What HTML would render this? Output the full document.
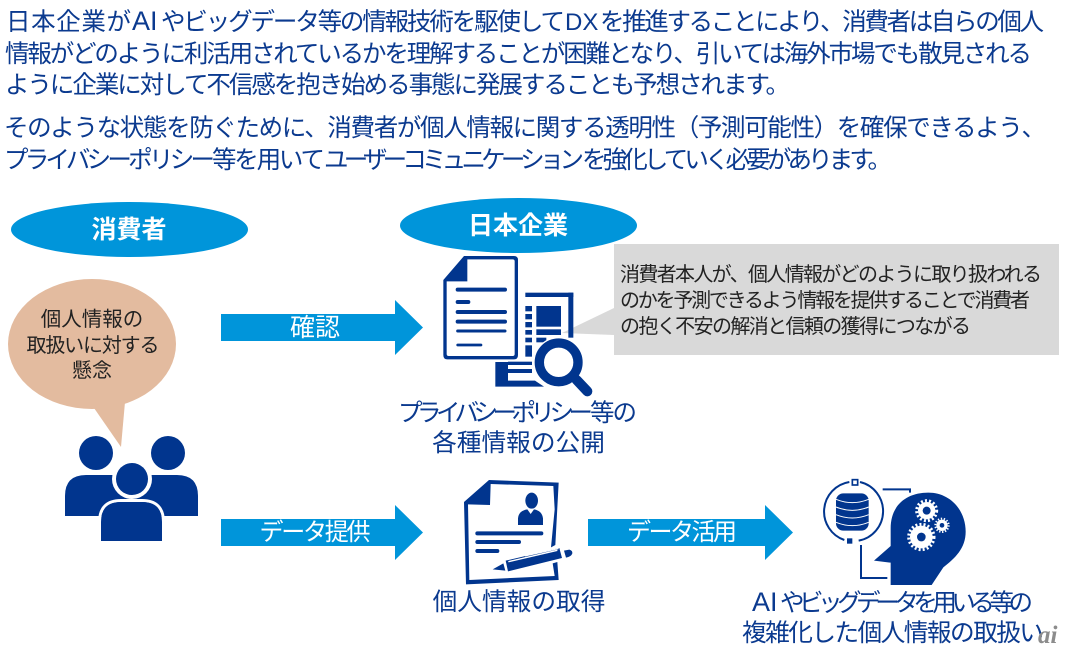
<!DOCTYPE html>
<html lang="ja"><head><meta charset="utf-8"><style>
html,body{margin:0;padding:0;background:#fff}
svg{display:block}
text{font-family:"Liberation Sans","Noto Sans CJK JP",sans-serif}
.h{font-size:24.500px;fill:#0b3a8f}
.b{font-size:24.700px;fill:#0b3a8f;text-anchor:middle}
.bl{font-size:24.500px;fill:#0b3a8f}
.w{font-size:24px;fill:#fff;text-anchor:middle}
.k{font-size:20px;fill:#222}
</style></head><body>
<svg width="1067" height="653" viewBox="0 0 1067 653" xmlns="http://www.w3.org/2000/svg">
<text class="h" x="6" y="30" textLength="125" lengthAdjust="spacing">日本企業が</text>
<text class="h" x="132" y="30" style="font-size:27px">AI</text>
<text class="h" x="161" y="30" textLength="404" lengthAdjust="spacing">やビッグデータ等の情報技術を駆使して</text>
<text class="h" x="565" y="30" style="font-size:24px">DX</text>
<text class="h" x="600" y="30" textLength="444" lengthAdjust="spacing">を推進することにより、消費者は自らの個人</text>
<text class="h" x="5" y="62" textLength="1027" lengthAdjust="spacing">情報がどのように利活用されているかを理解することが困難となり、引いては海外市場でも散見される</text>
<text class="h" x="5" y="93" textLength="785" lengthAdjust="spacing">ように企業に対して不信感を抱き始める事態に発展することも予想されます。</text>
<text class="h" x="4" y="136" textLength="1042" lengthAdjust="spacing">そのような状態を防ぐために、消費者が個人情報に関する透明性（予測可能性）を確保できるよう、</text>
<text class="h" x="4" y="168" textLength="211" lengthAdjust="spacing">プライバシーポリシー</text>
<text class="h" x="212" y="168" textLength="113" lengthAdjust="spacing">等を用いて</text>
<text class="h" x="324" y="168" textLength="260" lengthAdjust="spacing">ユーザーコミュニケーション</text>
<text class="h" x="582" y="168" textLength="310" lengthAdjust="spacing">を強化していく必要があります。</text>

<ellipse cx="129.500" cy="229.500" rx="118.500" ry="27.500" fill="#0095da"/>
<ellipse cx="518.500" cy="225.500" rx="118.500" ry="27.500" fill="#0095da"/>
<text x="129" y="238" text-anchor="middle" font-size="25" font-weight="700" fill="#fff">消費者</text>
<text x="518" y="234" text-anchor="middle" font-size="25" font-weight="700" fill="#fff">日本企業</text>

<path d="M221 314H395V300L423 327.500 395 355V341H221Z" fill="#0095da"/>
<path d="M221 519H395V505L423 532.500 395 560V546H221Z" fill="#0095da"/>
<path d="M588 519H765V505L793 532.500 765 560V546H588Z" fill="#0095da"/>
<text class="w" x="315" y="336" style="font-size:25px">確認</text>
<text class="w" x="315" y="540" textLength="111" lengthAdjust="spacing">データ提供</text>
<text class="w" x="682" y="540" textLength="110" lengthAdjust="spacing">データ活用</text>

<ellipse cx="92" cy="344" rx="84" ry="65" fill="#e3bb9f"/>
<path d="M94 408L121 447 125 402Z" fill="#e3bb9f"/>
<text class="k" x="92" y="326" text-anchor="middle" style="font-size:20.500px">個人情報の</text>
<text class="k" x="93" y="352" text-anchor="middle" textLength="133" lengthAdjust="spacing">取扱いに対する</text>
<text class="k" x="92" y="377" text-anchor="middle">懸念</text>

<g fill="#01358e">
<circle cx="96" cy="453" r="17"/><circle cx="168" cy="453" r="17"/>
<path d="M65 516V496Q65 475 86 475H177Q198 475 198 496V516Z"/>
<circle cx="132" cy="479" r="20" fill="#fff"/>
<circle cx="132" cy="479" r="16"/>
<path d="M101 541V522Q101 502 121 502H142Q162 502 162 522V541Z" stroke="#fff" stroke-width="6" paint-order="stroke"/>
</g>
<rect x="95" y="516" width="72" height="30" fill="#fff"/>
<path d="M101 541V522Q101 502 121 502H142Q162 502 162 522V541Z" fill="#01358e"/>

<path d="M614 244H1059V355H614V335L562 333 614 308Z" fill="#d9d9d9"/>
<text class="k" x="620" y="281" textLength="422" lengthAdjust="spacing">消費者本人が、個人情報がどのように取り扱われる</text>
<text class="k" x="620" y="307" textLength="410" lengthAdjust="spacing">のかを予測できるよう情報を提供することで消費者</text>
<text class="k" x="620" y="333" textLength="351" lengthAdjust="spacing">の抱く不安の解消と信頼の獲得につながる</text>

<g transform="translate(420 240) scale(.33333)" fill="#01358e">
<rect x="316" y="158" width="144" height="13"/>
<rect x="445" y="158" width="15" height="135"/>
<rect x="316" y="198" width="20" height="16"/><rect x="316" y="222" width="20" height="16"/><rect x="316" y="246" width="20" height="16"/><rect x="316" y="270" width="20" height="14"/><rect x="316" y="293" width="20" height="14"/><rect x="316" y="316" width="20" height="34"/>
<rect x="349" y="198" width="74" height="62"/><rect x="349" y="268" width="74" height="17"/><rect x="349" y="293" width="30" height="14"/>
<path d="M226 366H264V422H345L372 440H226Z"/><rect x="264" y="365" width="72" height="10"/><rect x="264" y="387" width="72" height="12"/>
<path d="M70 120L132 48H282Q294 48 294 60V345Q294 358 282 358H82Q70 358 70 345ZM80 128V342Q80 348 86 348H278Q284 348 284 342V64Q284 58 278 58H142V124H80Z" fill-rule="evenodd"/>
<g stroke="#01358e" stroke-linecap="round" fill="none">
<path d="M113 149H255" stroke-width="12"/><path d="M113 186H145" stroke-width="12"/><path d="M113 216H255" stroke-width="12"/><path d="M113 245H255" stroke-width="12"/><path d="M113 273H255" stroke-width="9"/><path d="M113 315H183" stroke-width="8"/>
</g>
<circle cx="416" cy="367" r="76" fill="#fff"/>
<circle cx="416" cy="367" r="58" fill="none" stroke="#01358e" stroke-width="28"/>
<path d="M470 420L502 454" stroke="#01358e" stroke-width="30" stroke-linecap="round"/>
</g>

<g transform="translate(440 470) scale(.33333)" fill="#01358e">
<path d="M72 96L147 30 356 38 346 225 333 232 344 118 340 48 152 42 150 105 84 103 88 330 344 318 338 280 352 276 356 330 78 343Z"/>
<ellipse cx="275" cy="92" rx="19" ry="24"/>
<path d="M234 165V145Q236 122 262 118L272 132 282 118Q306 122 309 145V165Z"/>
<g stroke="#01358e" stroke-linecap="round" fill="none">
<path d="M112 190H304" stroke-width="12"/><path d="M112 216H237" stroke-width="12"/><path d="M112 243H172" stroke-width="12"/>
</g>
<path d="M158 298L190 280 196 302Z"/>
<path d="M197 272L358 234 366 264 204 304Z"/>
<path d="M205 275L352 241" stroke="#fff" stroke-width="4"/>
<path d="M255 258L356 236" stroke="#fff" stroke-width="3"/>
<path d="M372 242L388 239Q398 242 397 250 394 260 378 263Z"/>
</g>

<g transform="translate(800 470) scale(.33333)" fill="#01358e">
<g fill="none" stroke="#01358e" stroke-width="6">
<path d="M148 36A90 90 0 0 0 133 210"/><path d="M176 212A90 90 0 0 0 180 36"/>
<path d="M248 58H330V68"/><path d="M183 225V324H262"/>
</g>
<rect x="157" y="29" width="16" height="16" fill="#fff" stroke="#01358e" stroke-width="5"/>
<rect x="141" y="205" width="16" height="16"/>
<rect x="108" y="70" width="98" height="112" rx="22"/>
<g fill="none" stroke="#fff" stroke-width="3"><path d="M108 88Q157 108 206 88"/><path d="M108 111Q157 131 206 111"/><path d="M108 134Q157 154 206 134"/><path d="M108 157Q157 177 206 157"/></g>
<path d="M222 272L272 228V175C272 105 320 68 385 68C450 68 497 120 497 185C497 235 465 265 430 292L395 345H272V278Z"/>
<g fill="#fff">
<circle cx="380" cy="122" r="26"/><circle cx="426" cy="166" r="17"/><circle cx="364" cy="201" r="34"/>
</g>
<g stroke="#fff" stroke-width="9" stroke-dasharray="6 6.300" fill="none">
<circle cx="380" cy="122" r="30"/><circle cx="364" cy="201" r="38"/>
</g>
<g stroke="#fff" stroke-width="6" stroke-dasharray="4 5" fill="none"><circle cx="426" cy="166" r="20"/></g>
<circle cx="380" cy="122" r="12"/><circle cx="426" cy="166" r="7"/><circle cx="364" cy="201" r="13"/>
</g>

<text class="bl" x="398" y="421" textLength="195" lengthAdjust="spacing">プライバシーポリシー</text>
<text class="bl" x="590" y="421" textLength="47" lengthAdjust="spacing">等の</text>
<text class="b" x="518.500" y="451">各種情報の公開</text>
<text class="b" x="519" y="610">個人情報の取得</text>
<text class="bl" x="752" y="611" style="font-size:27px">AI</text>
<text class="bl" x="780" y="611" textLength="253" lengthAdjust="spacing">やビッグデータを用いる等の</text>
<text class="b" x="893" y="641" textLength="302" lengthAdjust="spacing">複雑化した個人情報の取扱い</text>
<text x="1038" y="643" font-size="25" font-weight="700" font-style="italic" fill="#8c8c8c" style="font-family:'Liberation Serif',serif">ai</text>
</svg>
</body></html>
